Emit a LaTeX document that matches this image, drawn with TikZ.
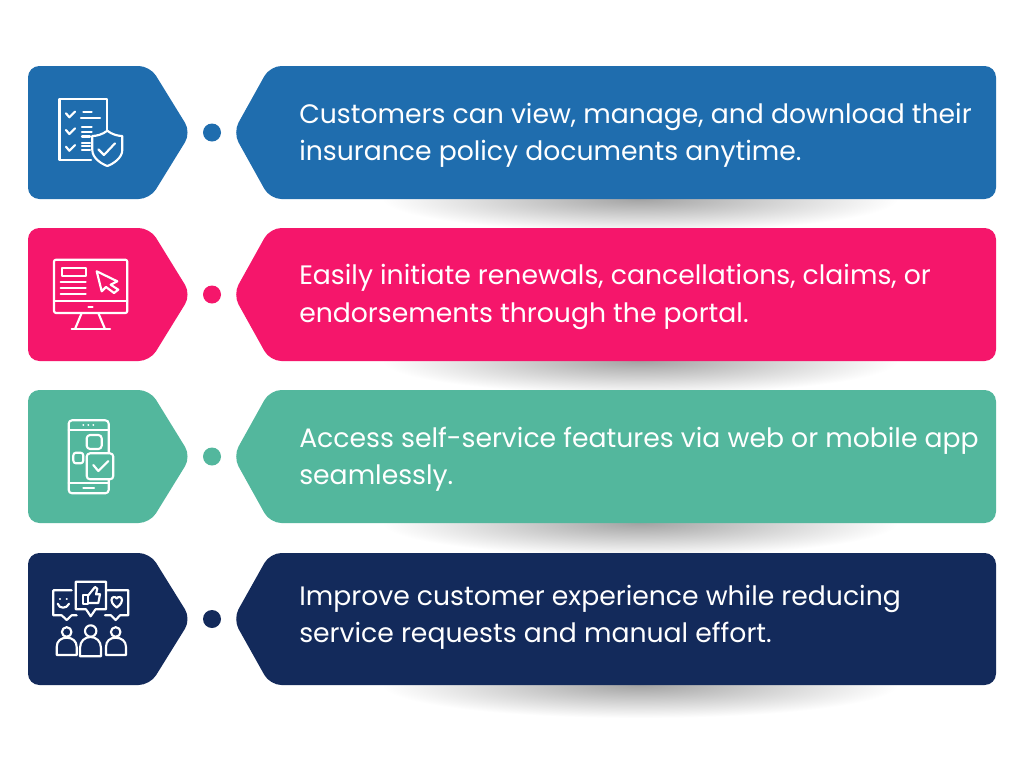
\documentclass[tikz,border=0pt]{standalone}
\usepackage{fontspec}
\setmainfont{Poppins}
\definecolor{cblue}{HTML}{1F6DAE}
\definecolor{cpink}{HTML}{F5166B}
\definecolor{cgreen}{HTML}{53B79D}
\definecolor{cnavy}{HTML}{132A5B}
\tikzset{
  icon/.style={draw=white,line width=1.6pt,line join=round,line cap=round,fill=none},
  desc/.style={anchor=west,align=left,text=white,inner sep=0pt,
     font=\fontsize{20}{27.9}\selectfont},
}
% #1 top y, #2 bottom y, #3 colour
\newcommand{\rowshapes}[3]{%
  \pgfmathsetmacro{\mymid}{(#1+#2)/2}%
  \fill[#3,rounded corners=8.5pt] (28,#1) -- (150,#1) -- (191,\mymid) -- (150,#2) -- (28,#2) -- cycle;
  \fill[#3,rounded corners=8.5pt] (996,#1) -- (270,#1) -- (233,\mymid) -- (270,#2) -- (996,#2) -- cycle;
  \fill[#3] (212,\mymid) circle[radius=9];
}
% #1 bar bottom y
\newcommand{\rowshadow}[1]{%
  \begin{scope}
    \clip (380,#1) rectangle (900,#1+34);
    \shade[inner color=black!36,outer color=white] (640,#1) ellipse[x radius=258,y radius=33];
  \end{scope}
}
\begin{document}
\begin{tikzpicture}[x=0.75pt,y=-0.75pt]
\useasboundingbox (0,0) rectangle (1024,768);
\fill[white] (0,0) rectangle (1024,768);
\rowshadow{199}\rowshadow{361}\rowshadow{523}\rowshadow{685}
\rowshapes{66}{199}{cblue}
\rowshapes{228}{361}{cpink}
\rowshapes{390}{523}{cgreen}
\rowshapes{553}{685}{cnavy}
\node[desc] (t1) at (299,135) {Customers can view, manage, and download their\\insurance policy documents anytime.};
\node[desc] (t2) at (299,297) {Easily initiate renewals, cancellations, claims, or\\endorsements through the portal.};
\node[desc] (t3) at (299,459) {Access self-service features via web or mobile app\\seamlessly.};
\node[desc] (t4) at (299,617) {Improve customer experience while reducing\\service requests and manual effort.};
% icon 1
\begin{scope}[icon]
\draw (91,160) -- (59.5,160) -- (59.5,98.7) -- (107.3,98.7) -- (107.3,131);
\draw (66,113.3) -- (69.3,117.3) -- (75,111.7);
\draw (66,130) -- (69.3,134) -- (75,128.4);
\draw (66,146.7) -- (69.3,150.7) -- (75,145.1);
\draw (83.3,111.7) -- (91.7,111.7) (81,117.7) -- (100,117.7);
\draw (82,126.7) -- (91.7,126.7) (82,131.7) -- (91.7,131.7) (82,136.5) -- (90,136.5);
\draw (82,142.7) -- (90,142.7) (82,146.3) -- (90,146.3) (82,150) -- (90,150);
\draw (107.3,130.7) .. controls (112,134.5) and (118,136) .. (122.3,136) -- (122.3,150) .. controls (122.3,158) and (113,164) .. (107.3,166) .. controls (101.5,164) and (92.3,158) .. (92.3,150) -- (92.3,136) .. controls (96.5,136) and (102.5,134.5) .. (107.3,130.7) -- cycle;
\draw (98.3,149.3) -- (104,155) -- (115,143.3);
\end{scope}
% icon 2
\begin{scope}[icon]
\draw[rounded corners=1.5pt] (54,259.7) rectangle (127.3,313);
\draw (54,301.3) -- (127.3,301.3);
\draw (61.7,267.7) rectangle (85.7,276);
\draw (60.7,282) -- (85.7,282) (60.7,287.7) -- (85.7,287.7) (60.7,293.7) -- (85.7,293.7);
\draw (88.5,307) -- (92.5,307);
\draw (81.7,313) -- (75,329) (98.3,313) -- (105,329);
\draw (71.7,329.3) -- (110,329.3);
\draw (96.7,271.3) -- (117.3,281.3) -- (110.7,284.7) -- (118.3,289.7) -- (114,293) -- (106,287) -- (101.7,291.3) -- cycle;
\end{scope}
% icon 3
\begin{scope}[icon]
\draw[rounded corners=2.5pt] (108.7,453) -- (108.7,420.3) -- (68.7,420.3) -- (68.7,493.3) -- (108.7,493.3) -- (108.7,479.3);
\draw (68.7,430) -- (108.7,430) (68.7,483.3) -- (108.7,483.3);
\draw (83.3,425.3) -- (83.4,425.3) (88.3,425.3) -- (88.4,425.3) (93.3,425.3) -- (93.4,425.3);
\draw (83.3,487.7) -- (94,487.7);
\draw[rounded corners=2.5pt] (86.7,435) rectangle (101.7,449);
\draw[rounded corners=2.5pt] (86.7,453.3) rectangle (113.3,479.3);
\draw[rounded corners=2pt] (73.3,452.7) rectangle (83.3,463.3);
\draw (93.3,465) -- (98.3,471) -- (108.3,461);
\end{scope}
% icon 4
\begin{scope}[icon]
\draw (75.7,581.7) -- (106,581.7) -- (106,609.3) -- (95.5,609.3) -- (90.7,616.3) -- (86,609.3) -- (75.7,609.3) -- cycle;
\draw (71.7,590.3) -- (53.3,590.3) -- (53.3,615.3) -- (61.7,615.3) -- (66.7,620) -- (71.7,615.3) -- (76.7,615.3);
\draw (107.3,590.3) -- (128.3,590.3) -- (128.3,615.3) -- (120,615.3) -- (115.7,620) -- (111,615.3) -- (105,615.3);
\draw (60,598.7) -- (60.1,598.7) (66.7,598.7) -- (66.8,598.7);
\draw (57.7,603.7) .. controls (59,609) and (67,609) .. (69,603.7);
\draw (82.7,594.7) rectangle (88.3,603.7);
\draw (88.3,595.3) -- (95,587) -- (97.3,588.7) -- (96,594.3) -- (100,594.3) -- (98.3,603) -- (88.3,603);
\draw (116.7,607.5) .. controls (112,604) and (111.5,601.5) .. (111.5,600) .. controls (111.5,596.5) and (115.5,596) .. (116.7,598.5) .. controls (118,596) and (122,596.5) .. (122,600) .. controls (122,601.5) and (121.5,604) .. (116.7,607.5) -- cycle;
\draw (66.7,632) circle[radius=4.8];
\draw (90.7,631) circle[radius=5.7];
\draw (115.7,632) circle[radius=4.8];
\draw (56.7,655) -- (56.7,647) .. controls (56.7,641) and (61,637.7) .. (66.7,637.7) .. controls (72.4,637.7) and (76.7,641) .. (76.7,647) -- (76.7,655) -- cycle;
\draw (80,656.3) -- (80,648) .. controls (80,641) and (85,637) .. (90.5,637) .. controls (96,637) and (101,641) .. (101,648) -- (101,656.3) -- cycle;
\draw (106,655) -- (106,647) .. controls (106,641) and (110,637.7) .. (115.7,637.7) .. controls (121.4,637.7) and (126,641) .. (126,647) -- (126,655) -- cycle;
\end{scope}
\end{tikzpicture}
\end{document}
